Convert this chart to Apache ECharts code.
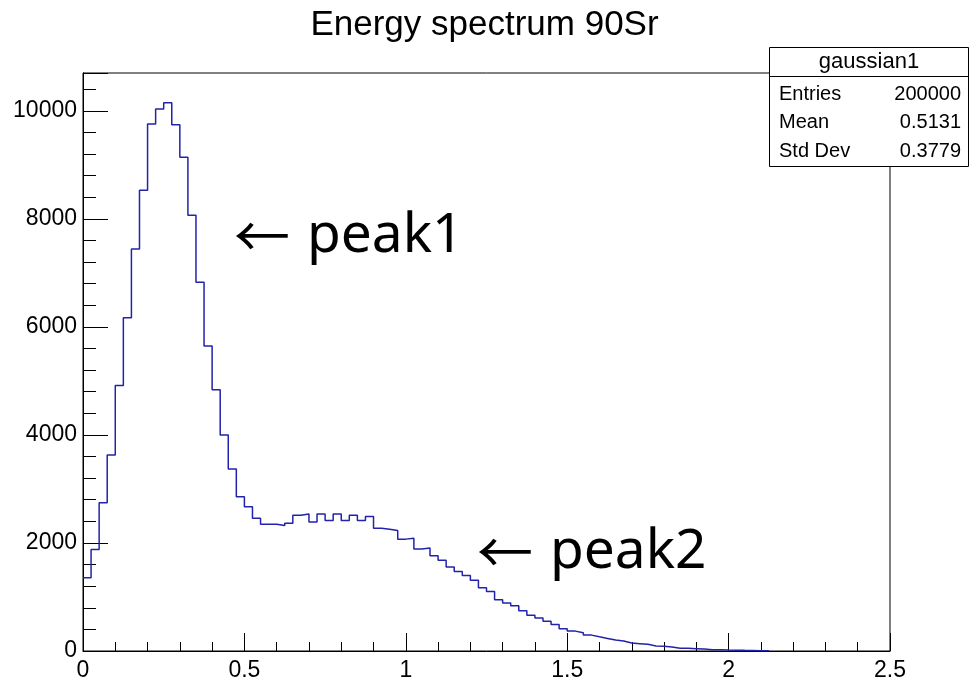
<!DOCTYPE html>
<html>
<head>
<meta charset="utf-8">
<title>Energy spectrum 90Sr</title>
<script src="https://cdn.jsdelivr.net/npm/echarts@6/dist/echarts.min.js"></script>
<style>
  html, body { margin: 0; padding: 0; background: #fff; }
  #main { width: 969px; height: 682px; }
</style>
</head>
<body>
<div id="main"></div>
<script>
  // histogram bins: 0 .. 2.125, width 0.025
  const binWidth = 0.025;
  const counts = [
    1356, 1878, 2746, 3627, 4916, 6170, 7444, 8529, 9756, 10034,
    10150, 9743, 9139, 8068, 6827, 5648, 4834, 4000, 3370, 2855,
    2671, 2457, 2347, 2347, 2322, 2365, 2512, 2537, 2390, 2537,
    2414, 2537, 2414, 2512, 2414, 2488, 2273, 2255, 2230, 2071,
    2089, 1887, 1905, 1765, 1679, 1556, 1470, 1397, 1311, 1170,
    1103, 950, 888, 839, 747, 662, 613, 551, 490, 410,
    368, 337, 294, 263, 233, 202, 184, 147, 135, 123,
    92, 86, 74, 49, 49, 43, 37, 25, 25, 18,
    15, 12, 10, 6, 4
  ];
  const xTicks = [0, 0.5, 1, 1.5, 2, 2.5];
  const yTicks = [0, 2000, 4000, 6000, 8000, 10000];
  const statNames = ['Entries', 'Mean', 'Std Dev'];
  const statValues = ['200000', '0.5131', '0.3779'];

  // step outline: point on every left bin edge, then close at the last edge
  let steps = counts.map((c, i) => [+(i * binWidth).toFixed(3), c]);
  const lastEdge = +(counts.length * binWidth).toFixed(3);
  steps.push([lastEdge, counts[counts.length - 1]]);
  steps.push([lastEdge, 0]);

  const font = 'Liberation Sans, Arial, Helvetica, sans-serif';
  const bigFont = 'Noto Sans, DejaVu Sans, sans-serif';
  const arrowFont = 'Noto Sans CJK SC, Noto Sans, sans-serif';

  let chart = echarts.init(document.getElementById('main'));

  // stats box rows
  let statText = [];
  statNames.forEach((n, i) => {
    statText.push({
      type: 'text', z: 11, x: 779, y: 94 + i * 28.5,
      style: { text: n, font: '20px ' + font, fill: '#000', verticalAlign: 'middle' }
    });
    statText.push({
      type: 'text', z: 11, x: 961, y: 94 + i * 28.5,
      style: { text: statValues[i], font: '20px ' + font, fill: '#000', align: 'right', verticalAlign: 'middle' }
    });
  });

  chart.setOption({
    animation: false,
    title: {
      text: 'Energy spectrum 90Sr',
      left: 'center',
      top: 3,
      textStyle: { fontFamily: font, fontSize: 35, fontWeight: 'normal', color: '#000' }
    },
    grid: {
      left: 83, right: 79, top: 73, bottom: 27,
      show: true, borderColor: '#000', borderWidth: 1, backgroundColor: '#fff'
    },
    xAxis: {
      type: 'value', min: 0, max: 2.5, interval: 0.5,
      axisLine: { lineStyle: { color: '#000', width: 1 } },
      axisTick: { inside: true, length: 18, lineStyle: { color: '#000' } },
      minorTick: { show: true, splitNumber: 5, length: 9, lineStyle: { color: '#000' } },
      splitLine: { show: false },
      axisLabel: {
        color: '#000', fontFamily: font, fontSize: 23, margin: 8,
        formatter: v => xTicks.indexOf(v) >= 0 ? String(v) : ''
      }
    },
    yAxis: [
      {
        type: 'value', min: 0, max: 10700, interval: 400,
        axisLine: { show: true, lineStyle: { color: '#000', width: 1 } },
        axisTick: { inside: true, length: 13, lineStyle: { color: '#000' } },
        splitLine: { show: false },
        axisLabel: {
          color: '#000', fontFamily: font, fontSize: 23, margin: 6,
          showMaxLabel: false,
          formatter: v => yTicks.indexOf(v) >= 0 ? String(v) : ''
        }
      },
      {
        type: 'value', min: 0, max: 10700, interval: 2000, position: 'left',
        axisLine: { show: true, lineStyle: { color: '#000', width: 1 } },
        axisTick: { inside: true, length: 25, lineStyle: { color: '#000' } },
        splitLine: { show: false },
        axisLabel: { show: false }
      }
    ],
    series: [{
      type: 'line',
      step: 'end',
      data: steps,
      symbol: 'none',
      lineStyle: { color: '#2222aa', width: 1.5 },
      z: 3
    }],
    graphic: [
      {
        type: 'text', x: 234, y: 236,
        style: { text: '←', font: '56px ' + arrowFont, fill: '#000', verticalAlign: 'middle' }
      },
      {
        type: 'text', x: 307, y: 236,
        style: { text: 'peak1', font: '55px ' + bigFont, fill: '#000', verticalAlign: 'middle' }
      },
      {
        type: 'text', x: 477, y: 552,
        style: { text: '←', font: '56px ' + arrowFont, fill: '#000', verticalAlign: 'middle' }
      },
      {
        type: 'text', x: 550, y: 552,
        style: { text: 'peak2', font: '55px ' + bigFont, fill: '#000', verticalAlign: 'middle' }
      },
      {
        type: 'rect', z: 10,
        shape: { x: 769.5, y: 47.5, width: 199, height: 119 },
        style: { fill: '#fff', stroke: '#000', lineWidth: 1 }
      },
      {
        type: 'line', z: 11,
        shape: { x1: 769.5, y1: 76.5, x2: 968.5, y2: 76.5 },
        style: { stroke: '#000', lineWidth: 1 }
      },
      {
        type: 'text', z: 11, x: 869, y: 62,
        style: { text: 'gaussian1', font: '22px ' + font, fill: '#000', align: 'center', verticalAlign: 'middle' }
      }
    ].concat(statText)
  });
  window.onresize = chart.resize;
</script>
</body>
</html>
